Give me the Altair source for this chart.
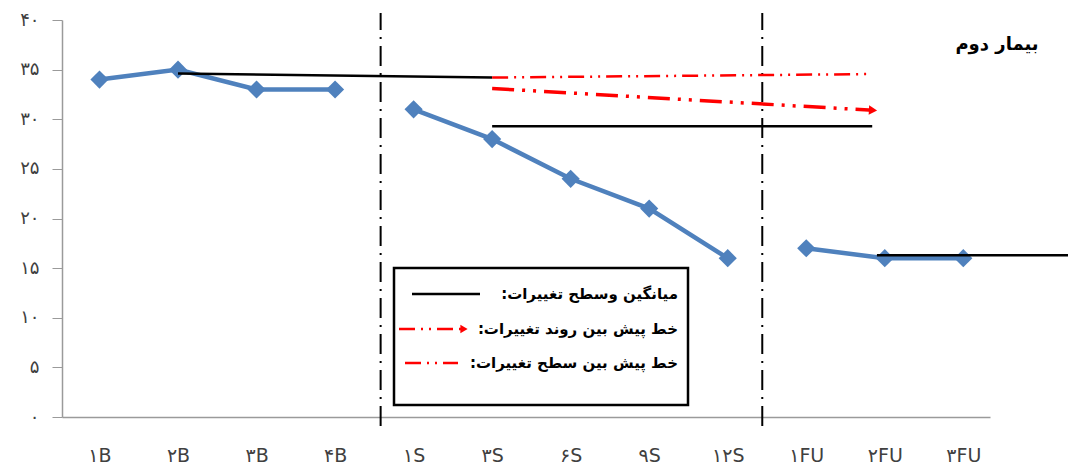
import altair as alt
import pandas as pd

# ---- data ----
categories = ["۱B", "۲B", "۳B", "۴B", "۱S", "۳S", "۶S", "۹S", "۱۲S", "۱FU", "۲FU", "۳FU"]
phases = ["B", "B", "B", "B", "S", "S", "S", "S", "S", "FU", "FU", "FU"]
scores = [34, 35, 33, 33, 31, 28, 24, 21, 16, 17, 16, 16]

y_ticks = [0, 5, 10, 15, 20, 25, 30, 35, 40]
y_tick_labels = ["۰", "۵", "۱۰", "۱۵", "۲۰", "۲۵", "۳۰", "۳۵", "۴۰"]

# mean / level lines (black)
mean_x = [2, 6, 10.9]
mean_x2 = [6, 10.84, 13.44]
mean_y = [34.6, 29.3, 16.3]
mean_y2 = [34.2, 29.3, 16.3]

# predicted level line (red dash-dot-dot)
level_x = [6]
level_x2 = [10.78]
level_y = [34.2]
level_y2 = [34.55]

# predicted trend line (red dash-dot-dot with arrow)
trend_x = [6]
trend_x2 = [10.85]
trend_y = [33.1]
trend_y2 = [30.9]

# phase boundaries
boundary_x = [4.58, 9.44]
boundary_y = [-0.9, -0.9]
boundary_y2 = [40.7, 40.7]

title_text = "بیمار دوم"
legend_labels = ["میانگین وسطح تغییرات:", "خط پیش بین روند تغییرات:", "خط پیش بین سطح تغییرات:"]

RLM = "\u200f"
FONT = "DejaVu Sans"
BLUE = "#4F81BD"
RED = "#FF0000"

df = pd.DataFrame({"pos": list(range(1, 13)), "cat": categories, "phase": phases, "score": scores})
df_mean = pd.DataFrame({"x": mean_x, "x2": mean_x2, "y": mean_y, "y2": mean_y2})
df_level = pd.DataFrame({"x": level_x, "x2": level_x2, "y": level_y, "y2": level_y2})
df_trend = pd.DataFrame({"x": trend_x, "x2": trend_x2, "y": trend_y, "y2": trend_y2})
df_bound = pd.DataFrame({"x": boundary_x, "y": boundary_y, "y2": boundary_y2})
one = pd.DataFrame({"k": [0]})

x_label_expr = "[" + ",".join(f"'{c}'" for c in categories) + "][datum.value - 1]"
y_label_expr = "[" + ",".join(f"'{c}'" for c in y_tick_labels) + "][round(datum.value / 5)]"

xscale = alt.Scale(domain=[0.5225, 12.34], nice=False, zero=False)
yscale = alt.Scale(domain=[0, 40], nice=False)

x_axis = alt.Axis(
    values=list(range(1, 13)), labelExpr=x_label_expr, title=None, grid=False,
    ticks=False, domainColor="#9a9a9a", domainWidth=1.5, labelPadding=29,
    labelFontSize=19, labelFont=FONT, labelColor="#404040",
)
y_axis = alt.Axis(
    values=y_ticks, labelExpr=y_label_expr, title=None, grid=False,
    tickSize=10, tickColor="#9a9a9a", domainColor="#9a9a9a", domainWidth=1.5,
    labelPadding=13, labelFontSize=18, labelFont=FONT, labelColor="#404040",
)

base = alt.Chart(df)

line = base.mark_line(color=BLUE, strokeWidth=4.5).encode(
    x=alt.X("pos:Q", scale=xscale, axis=x_axis),
    y=alt.Y("score:Q", scale=yscale, axis=y_axis),
    detail="phase:N",
)
pts = base.mark_point(shape="diamond", filled=True, color=BLUE, size=330, opacity=1).encode(
    x=alt.X("pos:Q", scale=xscale), y=alt.Y("score:Q", scale=yscale)
)

bounds = alt.Chart(df_bound).mark_rule(color="black", strokeWidth=2, strokeDash=[20, 7, 2, 7]).encode(
    x=alt.X("x:Q", scale=xscale), y=alt.Y("y:Q", scale=yscale), y2="y2:Q"
)

means = alt.Chart(df_mean).mark_rule(color="black", strokeWidth=2.5).encode(
    x=alt.X("x:Q", scale=xscale), x2="x2:Q", y=alt.Y("y:Q", scale=yscale), y2="y2:Q"
)

level = alt.Chart(df_level).mark_rule(color=RED, strokeWidth=2.5, strokeDash=[16, 6, 2, 6, 2, 6]).encode(
    x=alt.X("x:Q", scale=xscale), x2="x2:Q", y=alt.Y("y:Q", scale=yscale), y2="y2:Q"
)

trend = alt.Chart(df_trend).mark_rule(color=RED, strokeWidth=3.5, strokeDash=[22, 8, 3, 8, 3, 8]).encode(
    x=alt.X("x:Q", scale=xscale), x2="x2:Q", y=alt.Y("y:Q", scale=yscale), y2="y2:Q"
)
trend_head = alt.Chart(df_trend).mark_point(shape="triangle-right", filled=True, color=RED, size=90, angle=3, opacity=1).encode(
    x=alt.X("x2:Q", scale=xscale), y=alt.Y("y2:Q", scale=yscale)
)

title = alt.Chart(one).mark_text(
    text=title_text + RLM, font=FONT, fontSize=18, fontWeight="bold", align="center", baseline="middle", color="black"
).encode(x=alt.value(935), y=alt.value(25))

# ---- custom legend ----
legend_box = alt.Chart(one).mark_rect(fill="white", stroke="black", strokeWidth=2.5).encode(
    x=alt.value(332), x2=alt.value(626), y=alt.value(248), y2=alt.value(385)
)
leg_rows_y = [274, 309, 343]
legend_texts = [
    alt.Chart(one).mark_text(
        text=lab + RLM, font=FONT, fontSize=15, fontWeight="bold", align="right", baseline="middle", color="black"
    ).encode(x=alt.value(616), y=alt.value(yy))
    for lab, yy in zip(legend_labels, leg_rows_y)
]
leg_mean = alt.Chart(one).mark_rule(color="black", strokeWidth=2.5).encode(
    x=alt.value(350), x2=alt.value(418), y=alt.value(leg_rows_y[0])
)
leg_trend = alt.Chart(one).mark_rule(color=RED, strokeWidth=2.5, strokeDash=[16, 6, 2, 6, 2, 6]).encode(
    x=alt.value(337), x2=alt.value(400), y=alt.value(leg_rows_y[1])
)
leg_trend_head = alt.Chart(one).mark_point(shape="triangle-right", filled=True, color=RED, size=70, opacity=1).encode(
    x=alt.value(402), y=alt.value(leg_rows_y[1])
)
leg_level = alt.Chart(one).mark_rule(color=RED, strokeWidth=2.5, strokeDash=[16, 6, 2, 6, 2, 6]).encode(
    x=alt.value(343), x2=alt.value(396), y=alt.value(leg_rows_y[2])
)

chart = alt.layer(
    bounds, line, pts, means, level, trend, trend_head, title,
    legend_box, leg_mean, leg_trend, leg_trend_head, leg_level, *legend_texts,
).properties(
    width=928, height=397,
    autosize=alt.AutoSizeParams(type="none"),
    padding={"left": 54, "top": 12, "right": 78, "bottom": 47},
).configure_view(stroke=None)

chart.save("out.html", embed_options={"renderer": "svg", "actions": False})
